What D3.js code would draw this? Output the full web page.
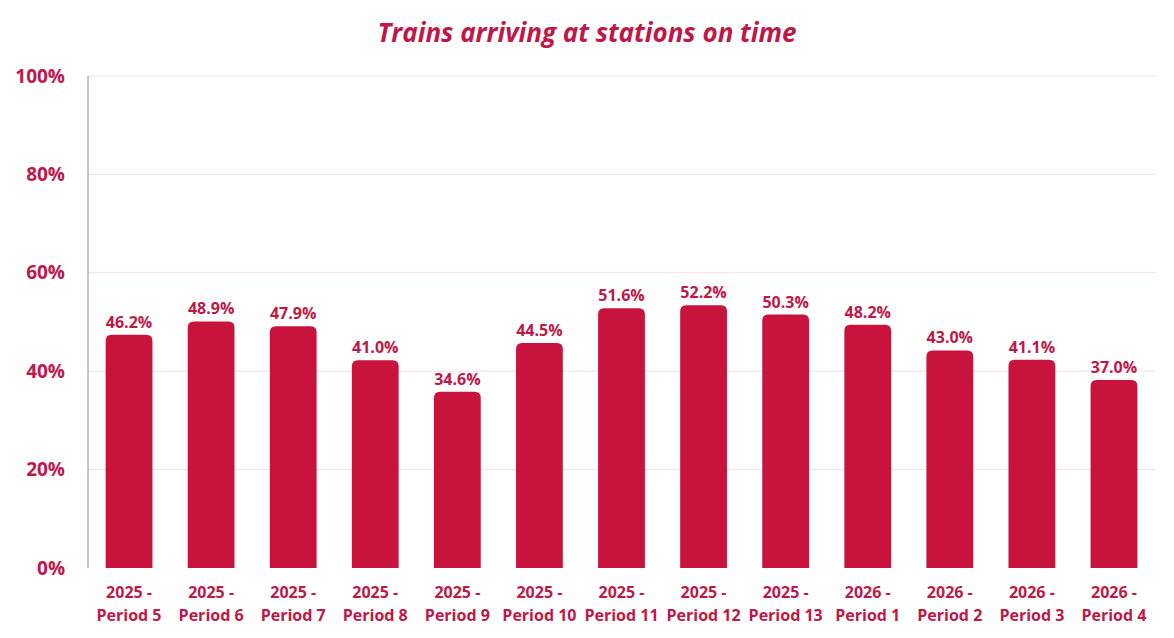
<!DOCTYPE html>
<html>
<head>
<meta charset="utf-8">
<script src="https://cdn.jsdelivr.net/npm/d3@7"></script>
<style>
  body { margin: 0; background: #fff; }
  text { font-family: "Open Sans", "Noto Sans", sans-serif; }
</style>
</head>
<body>
<div id="chart"></div>
<script>
// periods and on-time share (%)
let years = ["2025", "2025", "2025", "2025", "2025", "2025", "2025", "2025", "2025", "2026", "2026", "2026", "2026"];
let periods = ["Period 5", "Period 6", "Period 7", "Period 8", "Period 9", "Period 10", "Period 11", "Period 12", "Period 13",
               "Period 1", "Period 2", "Period 3", "Period 4"];
let onTime = [46.2, 48.9, 47.9, 41.0, 34.6, 44.5, 51.6, 52.2, 50.3, 48.2, 43.0, 41.1, 37.0];
let yTicks = [0, 20, 40, 60, 80, 100];

const width = 1174, height = 638;
const margin = {top: 76, right: 19, bottom: 70, left: 88};
const barColor = "#c8143c", textColor = "#bd1849";

let data = onTime.map((v, i) => ({key: years[i] + " - " + periods[i], year: years[i], period: periods[i], value: v}));

const svg = d3.select("#chart").append("svg")
  .attr("width", width).attr("height", height);

const x = d3.scaleBand()
  .domain(data.map(d => d.key))
  .range([margin.left, width - margin.right])
  .paddingInner(0.43).paddingOuter(0.215);

const y = d3.scaleLinear()
  .domain([0, 100])
  .range([height - margin.bottom, margin.top]);

// title
svg.append("text")
  .attr("x", 587).attr("y", 42)
  .attr("text-anchor", "middle")
  .attr("fill", textColor)
  .style("font-size", "26px").style("font-weight", "bold").style("font-style", "italic")
  .text("Trains arriving at stations on time");

// gridlines
svg.append("g").selectAll("line")
  .data(yTicks.filter(t => t > 0))
  .join("line")
  .attr("x1", margin.left).attr("x2", width - margin.right)
  .attr("y1", d => y(d)).attr("y2", d => y(d))
  .attr("stroke", "#f6dfe5").attr("stroke-width", 1);

// y axis labels
svg.append("g").selectAll("text")
  .data(yTicks)
  .join("text")
  .attr("x", 65).attr("y", d => y(d))
  .attr("dy", "0.35em")
  .attr("text-anchor", "end")
  .attr("fill", textColor)
  .style("font-size", "19px").style("font-weight", "bold")
  .text(d => d + "%");

// bars with rounded top cap
const r = 6;
svg.append("g").selectAll("path")
  .data(data)
  .join("path")
  .attr("fill", barColor)
  .attr("d", d => {
    let x0 = x(d.key), x1 = x0 + x.bandwidth();
    let top = y(d.value) - r, bottom = y(0);
    return `M${x0},${bottom}V${top + r}Q${x0},${top} ${x0 + r},${top}H${x1 - r}Q${x1},${top} ${x1},${top + r}V${bottom}Z`;
  });

// y axis line
svg.append("line")
  .attr("x1", margin.left).attr("x2", margin.left)
  .attr("y1", y(100)).attr("y2", y(0))
  .attr("stroke", "#8a8a8a").attr("stroke-width", 1);

// value labels
svg.append("g").selectAll("text")
  .data(data)
  .join("text")
  .attr("x", d => x(d.key) + x.bandwidth() / 2)
  .attr("y", d => y(d.value) - r - 7)
  .attr("text-anchor", "middle")
  .attr("fill", textColor)
  .style("font-size", "16px").style("font-weight", "bold")
  .text(d => d.value.toFixed(1) + "%");

// category labels (two lines)
let cat = svg.append("g").selectAll("text")
  .data(data)
  .join("text")
  .attr("text-anchor", "middle")
  .attr("fill", textColor)
  .style("font-size", "16px").style("font-weight", "bold");
cat.append("tspan")
  .attr("x", d => x(d.key) + x.bandwidth() / 2).attr("y", 598)
  .text(d => d.year + " -");
cat.append("tspan")
  .attr("x", d => x(d.key) + x.bandwidth() / 2).attr("y", 621)
  .text(d => d.period);
</script>
</body>
</html>
